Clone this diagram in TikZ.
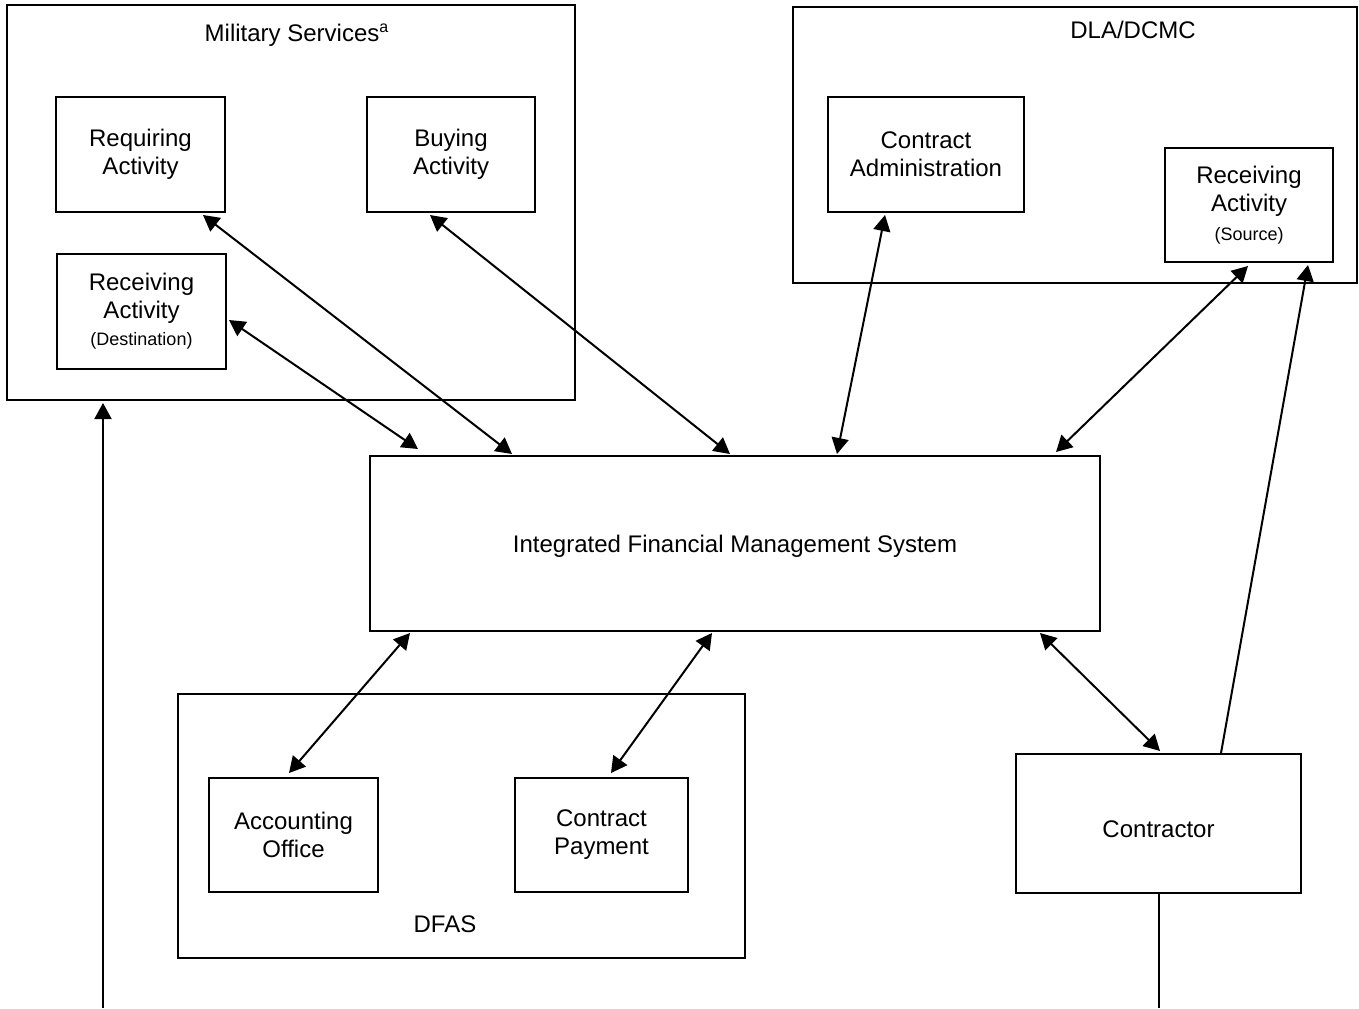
\documentclass[tikz,border=0pt]{standalone}
\usepackage{fontspec}
\setmainfont{Liberation Sans}
\usetikzlibrary{calc,arrows.meta}

\begin{document}
\begin{tikzpicture}[x=0.5pt, y=-0.5pt,
            box/.style={draw, rectangle, line width=1pt, inner sep=0pt, align=center, font=\fontsize{12}{14}\selectfont},
            label/.style={inner sep=0pt, font=\fontsize{12}{14}\selectfont},
            link/.style={line width=1pt, {Triangle[length=8pt, width=8.5pt]}-{Triangle[length=8pt, width=8.5pt]}},
            feed/.style={line width=1pt, -{Triangle[length=8pt, width=8.5pt]}}]
            \useasboundingbox (0,0) rectangle (1359,1008);
            \node[box, minimum width=284pt, minimum height=197.5pt] (ms) at (291,202.5) {};
            \node[label] (mslabel) at (297,35) {Military Services\textsuperscript{a}};
            \node[box, minimum width=84.5pt, minimum height=57.5pt] (req) at (140.5,154.5) {Requiring\\Activity};
            \node[box, minimum width=84pt, minimum height=57.5pt] (buy) at (451,154.5) {Buying\\Activity};
            \node[box, minimum width=84.5pt, minimum height=57.5pt] (rdest) at (141.5,311.5) {Receiving\\Activity\\[-0.5pt]{\fontsize{9}{11}\selectfont (Destination)}};
            \node[box, minimum width=282pt, minimum height=138pt] (dla) at (1075,145) {};
            \node[label] (dlalabel) at (1133,30) {DLA/DCMC};
            \node[box, minimum width=98pt, minimum height=57.5pt] (cadm) at (926,154.5) {Contract\\Administration};
            \node[box, minimum width=84pt, minimum height=57pt] (rsrc) at (1249,205) {Receiving\\Activity\\[0.5pt]{\fontsize{9}{11}\selectfont (Source)}};
            \node[box, minimum width=365pt, minimum height=87.5pt, align=none, text height=11pt, text depth=2pt] (ifms) at (735,543.5) {Integrated Financial Management System};
            \node[box, minimum width=283.5pt, minimum height=132pt] (dfas) at (461.5,826) {};
            \node[label] (dfaslabel) at (445,924) {DFAS};
            \node[box, minimum width=84.5pt, minimum height=57pt] (acc) at (293.5,835) {Accounting\\Office};
            \node[box, minimum width=86.5pt, minimum height=57pt] (cpay) at (601.5,835) {Contract\\Payment};
            \node[box, minimum width=142.5pt, minimum height=69.5pt, align=none, text height=16pt, text depth=2pt] (ctr) at (1158.5,823.5) {Contractor};
            \coordinate (msfeed) at (103,1008);
            \coordinate (ctrout) at (1158.5,1008);
            \draw[link] ($(req.south)+(62.5,2)$) -- ($(ifms.north)+(-223,-1)$);
            \draw[link] ($(rdest.east)+(2,8.5)$) -- ($(ifms.north)+(-317,-6)$);
            \draw[link] ($(buy.south)+(-21,2)$) -- ($(ifms.north)+(-5,-1)$);
            \draw[link] ($(cadm.south)+(-41,2)$) -- ($(ifms.north)+(102,-1)$);
            \draw[link] ($(rsrc.south)+(-1,3)$) -- ($(ifms.north)+(321,-3)$);
            \draw[link] ($(ifms.south)+(-325,1)$) -- ($(acc.north)+(-4.5,-4)$);
            \draw[link] ($(ifms.south)+(-23,1)$) -- ($(cpay.north)+(9.5,-4)$);
            \draw[link] ($(ifms.south)+(305,1)$) -- ($(ctr.north)+(1.5,-2)$);
            \draw[feed] ($(ctr.north)+(62.5,0)$) -- ($(rsrc.south)+(59,2)$);
            \draw[feed] (msfeed) -- ($(ms.south)+(-188,2)$);
            \draw[line width=1pt] (ctr.south) -- (ctrout);
        \end{tikzpicture}
\end{document}
